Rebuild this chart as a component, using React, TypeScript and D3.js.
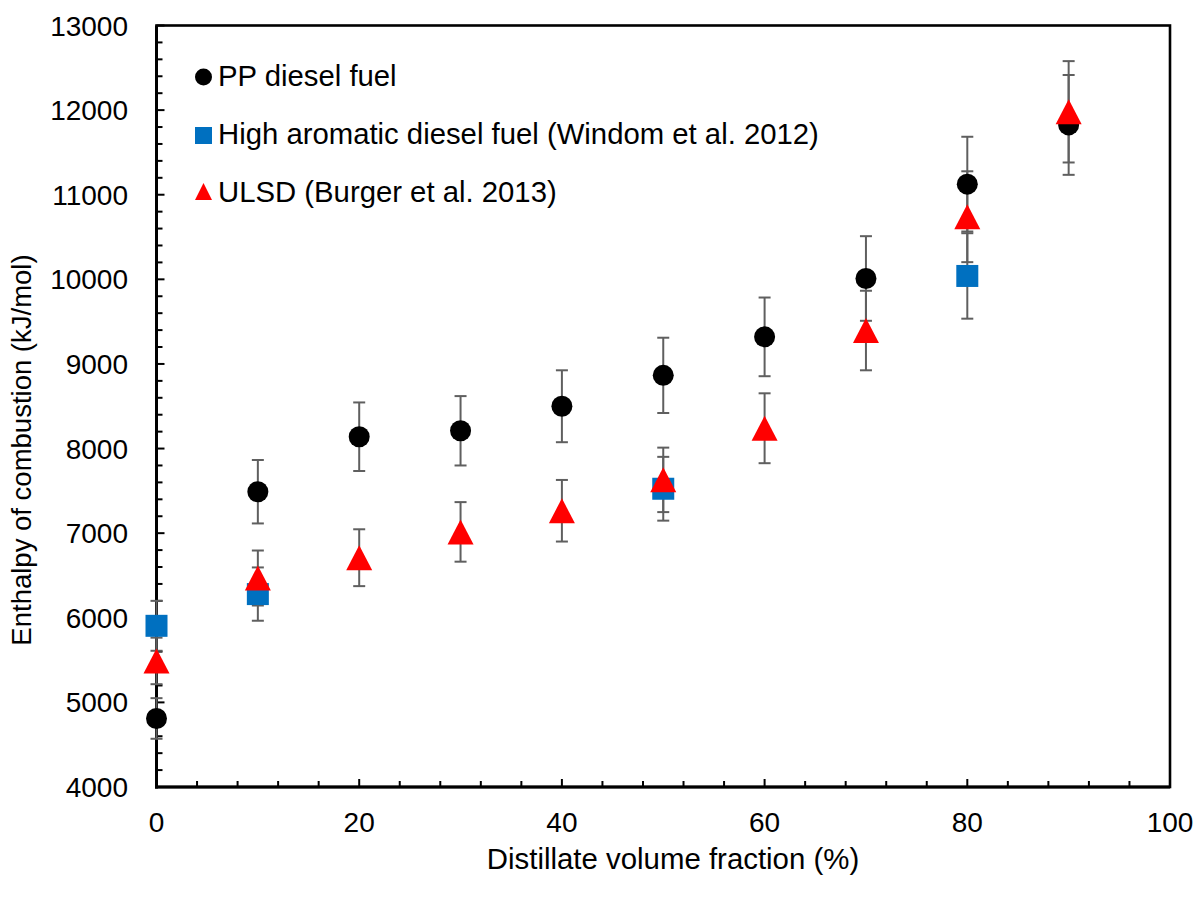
import React from "react";
import * as d3 from "d3";

const xPP = [0, 10, 20, 30, 40, 50, 60, 70, 80, 90];
const yPP = [4810, 7490, 8140, 8210, 8500, 8865, 9320, 10010, 11125, 11825];
const ePP = [240, 375, 405, 410, 425, 445, 465, 500, 560, 590];

const xHA = [0, 10, 50, 80];
const yHA = [5905, 6280, 7525, 10040];
const eHA = [295, 315, 377, 505];

const xUL = [0, 10, 20, 30, 40, 50, 60, 70, 80, 90];
const yUL = [5490, 6470, 6710, 7015, 7265, 7630, 8240, 9395, 10740, 11980];
const eUL = [275, 325, 336, 352, 364, 381, 413, 470, 537, 599];

const xTicks = [0, 20, 40, 60, 80, 100];
const yTicks = [4000, 5000, 6000, 7000, 8000, 9000, 10000, 11000, 12000, 13000];

const legendLabels = [
  "PP diesel fuel",
  "High aromatic diesel fuel (Windom et al. 2012)",
  "ULSD (Burger et al. 2013)",
];

const W = 1197;
const H = 898;
const L = 156.5, R = 1170, T = 25.5, B = 787;
const FONT = "'Liberation Sans', Arial, sans-serif";
const FS = 28;
const FS_LEG = 29.3;

export default function App() {
  const x = d3.scaleLinear().domain([0, 100]).range([L, R]);
  const y = d3.scaleLinear().domain([4000, 13000]).range([B, T]);

  const xMinor = d3.range(0, 100.001, 4);
  const yMinor = d3.range(4000, 13000.001, 200);

  const errColor = "#5f5f5f";
  const cap = 6;

  const errBars = (xs: number[], ys: number[], es: number[], key: string) =>
    xs.map((xv, i) => {
      const cx = x(xv);
      const y1 = y(ys[i] + es[i]);
      const y2 = y(ys[i] - es[i]);
      return (
        <g key={key + i} stroke={errColor} strokeWidth={2}>
          <line x1={cx} x2={cx} y1={y1} y2={y2} />
          <line x1={cx - cap} x2={cx + cap} y1={y1} y2={y1} />
          <line x1={cx - cap} x2={cx + cap} y1={y2} y2={y2} />
        </g>
      );
    });

  const tri = (cx: number, cy: number, w: number, h: number) =>
    `M${cx},${cy - h / 2}L${cx + w / 2},${cy + h / 2}L${cx - w / 2},${cy + h / 2}Z`;

  return (
    <svg
      width={W}
      height={H}
      style={{ position: "absolute", left: 0, top: 0, background: "#fff" }}
      fontFamily={FONT}
    >
      <rect x={0} y={0} width={W} height={H} fill="#fff" />
      {/* minor ticks */}
      <g stroke="#000" strokeWidth={2}>
        {yMinor.map((v) => (
          <line key={"ym" + v} x1={L} x2={L + (v % 1000 === 0 ? 8 : 6)} y1={y(v)} y2={y(v)} />
        ))}
        {xMinor.map((v) => (
          <line key={"xm" + v} x1={x(v)} x2={x(v)} y1={B} y2={B - (v % 20 === 0 ? 8 : 6)} />
        ))}
      </g>
      {/* frame */}
      <rect x={L} y={T} width={R - L} height={B - T} fill="none" stroke="#000" strokeWidth={2.6} />
      <line x1={L} x2={L} y1={T} y2={B + 1.5} stroke="#000" strokeWidth={3} />
      <line x1={L - 1.5} x2={R} y1={B} y2={B} stroke="#000" strokeWidth={3} />

      {/* tick labels */}
      {yTicks.map((v) => (
        <text key={"yt" + v} x={128} y={y(v) + 10} textAnchor="end" fontSize={FS} fill="#000">
          {v}
        </text>
      ))}
      {xTicks.map((v) => (
        <text key={"xt" + v} x={x(v)} y={832} textAnchor="middle" fontSize={FS} fill="#000">
          {v}
        </text>
      ))}

      {/* axis titles */}
      <text x={673} y={869} textAnchor="middle" fontSize={29.4} fill="#000">
        Distillate volume fraction (%)
      </text>
      <text
        transform={`translate(31,450) rotate(-90)`}
        textAnchor="middle"
        fontSize={27.5}
        fill="#000"
      >
        Enthalpy of combustion (kJ/mol)
      </text>

      {/* error bars */}
      {errBars(xPP, yPP, ePP, "epp")}
      {errBars(xHA, yHA, eHA, "eha")}
      {errBars(xUL, yUL, eUL, "eul")}

      {/* markers */}
      {xPP.map((xv, i) => (
        <circle key={"pp" + i} cx={x(xv)} cy={y(yPP[i])} r={10.5} fill="#000" />
      ))}
      {xHA.map((xv, i) => (
        <rect key={"ha" + i} x={x(xv) - 11} y={y(yHA[i]) - 11} width={22} height={22} fill="#0070C0" />
      ))}
      {xUL.map((xv, i) => (
        <path key={"ul" + i} d={tri(x(xv), y(yUL[i]), 26, 25)} fill="#FF0000" />
      ))}

      {/* legend */}
      <circle cx={203.5} cy={77} r={8.5} fill="#000" />
      <rect x={195} y={127} width={17} height={17} fill="#0070C0" />
      <path d={tri(203.5, 191.5, 17, 17)} fill="#FF0000" />
      {legendLabels.map((t, i) => (
        <text key={"lg" + i} x={218} y={[86, 144, 201.5][i]} fontSize={FS_LEG} fill="#000">
          {t}
        </text>
      ))}
    </svg>
  );
}
